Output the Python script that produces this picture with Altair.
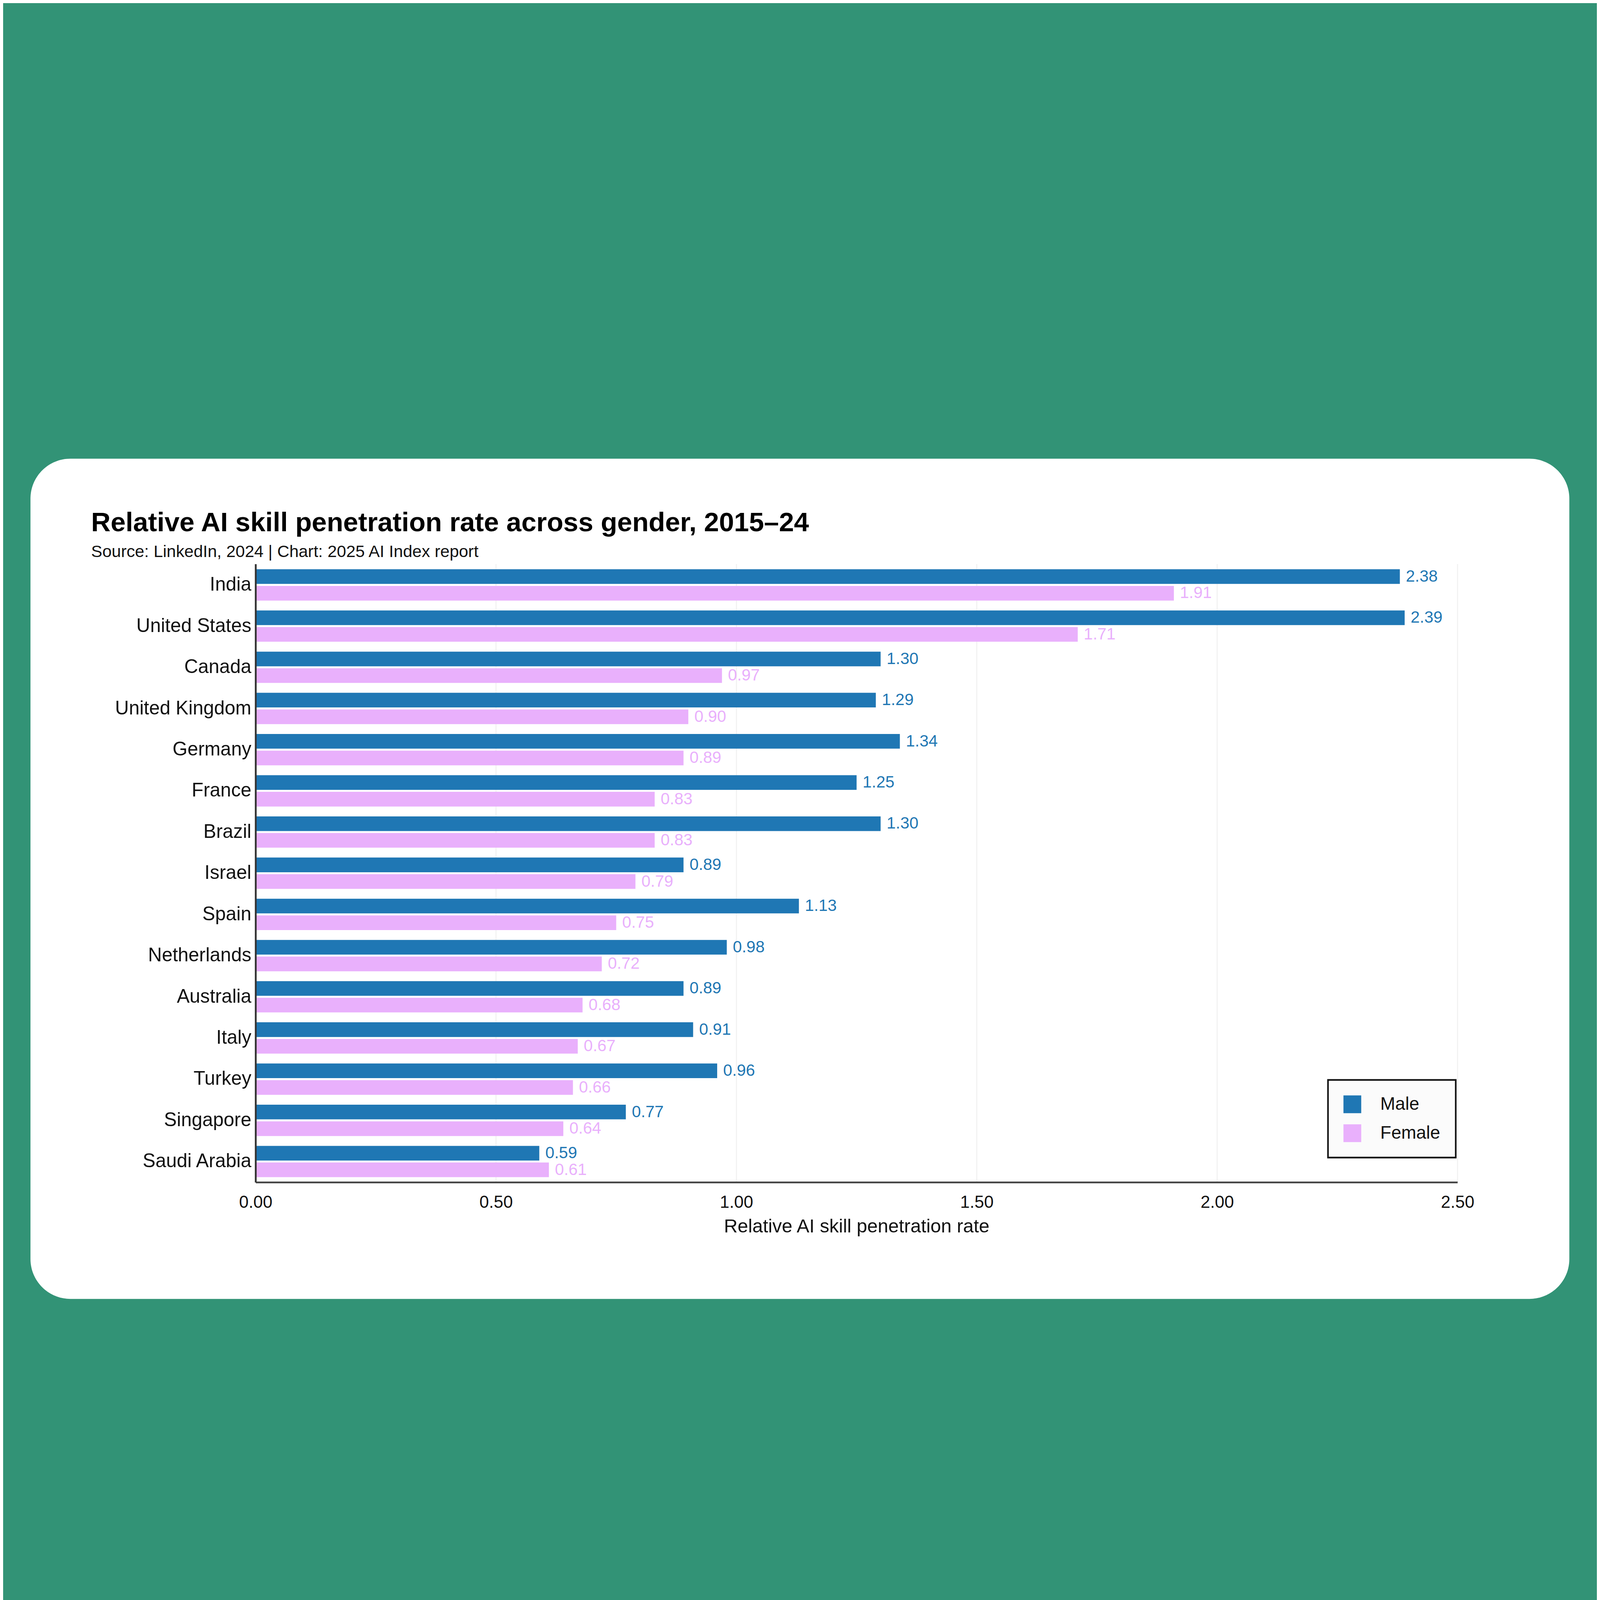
import altair as alt
import pandas as pd

countries = ["India", "United States", "Canada", "United Kingdom", "Germany", "France",
             "Brazil", "Israel", "Spain", "Netherlands", "Australia", "Italy", "Turkey",
             "Singapore", "Saudi Arabia"]
male = [2.38, 2.39, 1.30, 1.29, 1.34, 1.25, 1.30, 0.89, 1.13, 0.98, 0.89, 0.91, 0.96, 0.77, 0.59]
female = [1.91, 1.71, 0.97, 0.90, 0.89, 0.83, 0.83, 0.79, 0.75, 0.72, 0.68, 0.67, 0.66, 0.64, 0.61]
genders = ["Male", "Female"]
colors = ["#1F77B4", "#E9B0FC"]
x_ticks = [0.0, 0.5, 1.0, 1.5, 2.0, 2.5]
grid_vals = [0.5, 1.0, 1.5, 2.0, 2.5]

TITLE = "Relative AI skill penetration rate across gender, 2015\u201324"
SUBTITLE = "Source: LinkedIn, 2024 | Chart: 2025 AI Index report"
XTITLE = "Relative AI skill penetration rate"
FONT = "Liberation Sans"

rows = []
for c, m, f in zip(countries, male, female):
    rows.append({"country": c, "gender": "Male", "value": m})
    rows.append({"country": c, "gender": "Female", "value": f})
df = pd.DataFrame(rows)

W, H = 6021, 3097
PAD = {"left": 137, "top": 137, "right": 138, "bottom": 138}


def xenc():
    return alt.X(
        "value:Q",
        scale=alt.Scale(domain=[0, 2.5], nice=False, zero=True),
        axis=alt.Axis(values=x_ticks, format=".2f", labelFontSize=86, labelColor="#111111",
                      labelPadding=60, ticks=False, tickSize=0, domainColor="#444444",
                      domainWidth=9, grid=False, title=XTITLE, titleFontSize=95,
                      titleFontWeight="normal", titleColor="#111111", titlePadding=30,
                      zindex=1, labelFlush=False, labelFont=FONT, titleFont=FONT),
    )


def yenc():
    return alt.Y(
        "country:N", sort=countries,
        scale=alt.Scale(paddingInner=0.24, paddingOuter=0.125),
        axis=alt.Axis(title=None, labelFontSize=96, labelColor="#111111", labelPadding=22,
                      ticks=False, tickSize=0, domainColor="#333333", domainWidth=9,
                      grid=False, zindex=1, labelLimit=3000, labelFont=FONT),
    )


def yoff():
    return alt.YOffset("gender:N", sort=genders, scale=alt.Scale(paddingInner=0.12))


# white rounded card behind the chart (decoration)
card = alt.Chart(pd.DataFrame({"k": [0]})).mark_rect(fill="white", cornerRadius=200).encode(
    x=alt.value(-1128), x2=alt.value(6581), y=alt.value(-528), y2=alt.value(3681)
)

grid = alt.Chart(pd.DataFrame({"value": grid_vals})).mark_rule(
    color="#F1F1F1", strokeWidth=5
).encode(x=xenc())

bars = alt.Chart(df).mark_bar().encode(
    x=xenc(),
    y=yenc(),
    yOffset=yoff(),
    color=alt.Color(
        "gender:N",
        scale=alt.Scale(domain=genders, range=colors),
        legend=alt.Legend(title=None, orient="none", legendX=5372, legendY=2584,
                          symbolType="square", symbolSize=7921, labelFontSize=90,
                          labelColor="#111111", labelOffset=95, padding=77, rowPadding=55,
                          strokeColor="#111111", fillColor="#FBFBFB", labelLimit=3000,
                          symbolStrokeWidth=0, labelFont=FONT),
    ),
)

labels = alt.Chart(df).mark_text(
    align="left", baseline="middle", dx=30, fontSize=82, font=FONT
).encode(
    x=xenc(),
    y=yenc(),
    yOffset=yoff(),
    text=alt.Text("value:Q", format=".2f"),
    color=alt.condition(alt.datum.gender == "Male", alt.value(colors[0]), alt.value(colors[1])),
)

chart = alt.layer(card, grid, bars, labels).properties(
    width=W,
    height=H,
    padding=PAD,
    autosize=alt.AutoSizeParams(type="pad"),
    background="#329376",
    title=alt.Title(
        text=TITLE, subtitle=SUBTITLE, anchor="start", frame="group", dx=-824, offset=-510,
        fontSize=135, fontWeight="bold", color="#000000", font=FONT,
        subtitleFont=FONT, subtitleFontSize=84, subtitleColor="#111111",
        subtitlePadding=34,
    ),
).configure_view(stroke="transparent").configure(font=FONT)

try:
    chart.configure_legend(strokeWidth=8).save(
        "out.html", embed_options={"renderer": "svg", "actions": False})
except Exception:
    chart.save("out.html", embed_options={"renderer": "svg", "actions": False})
